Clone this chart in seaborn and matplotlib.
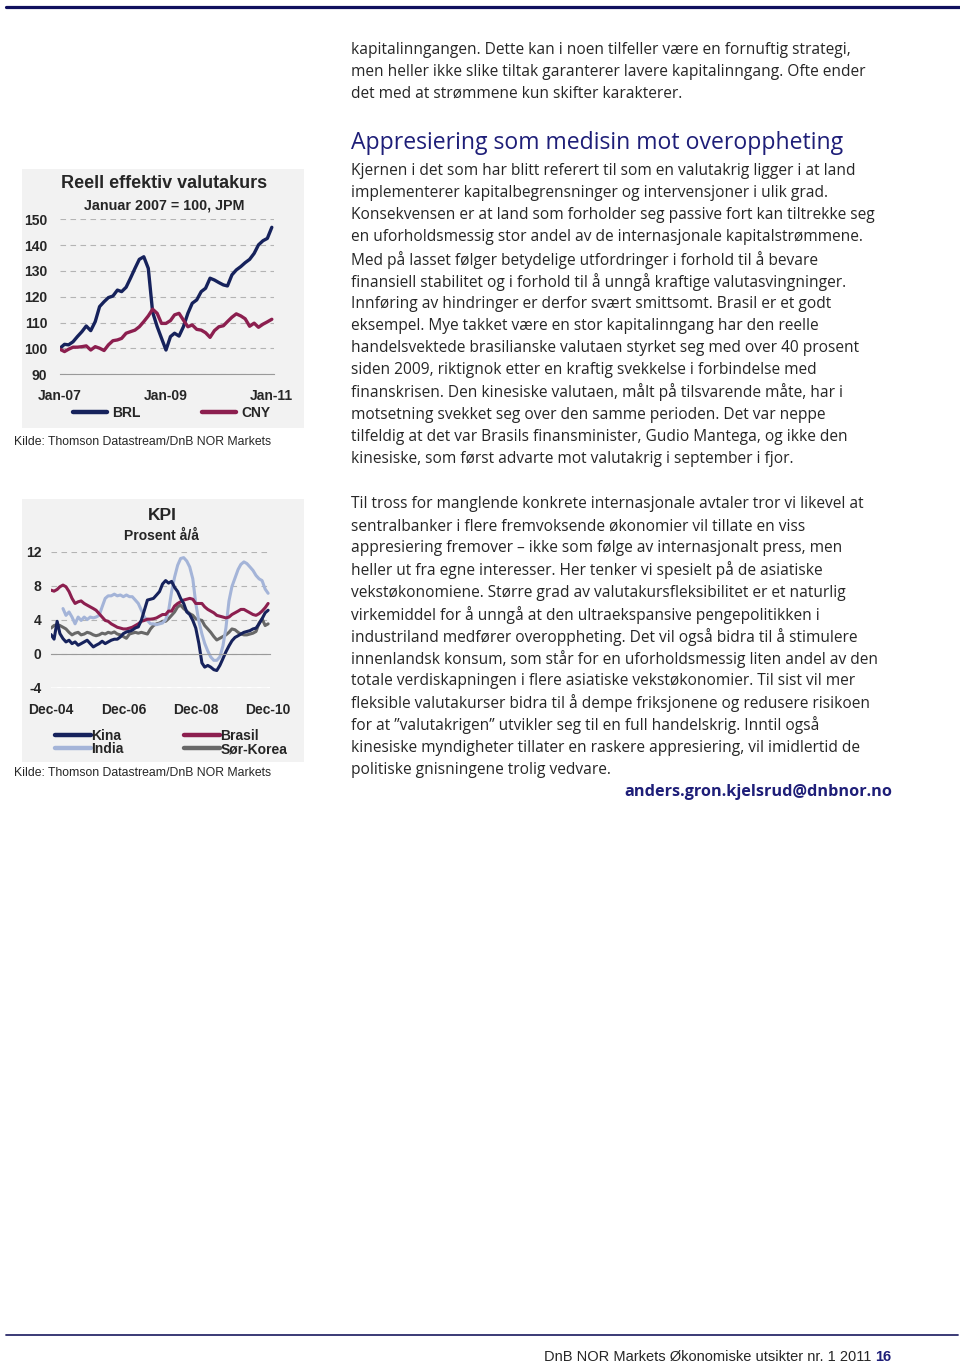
import pandas as pd
import seaborn as sns
import matplotlib.pyplot as plt
import matplotlib.dates as mdates
from matplotlib.patches import Rectangle
from matplotlib.lines import Line2D

# ---- chart 1: reell effektiv valutakurs, januar 2007 = 100 (monthly Jan-07 .. Jan-11)
reer_dates = pd.date_range("2007-01-01", "2011-01-01", freq="MS")
brl = [100.1, 101.6, 101.4, 102.6, 104.6, 106.5, 108.7, 106.9, 110.4, 116.2,
       118.1, 119.7, 120.3, 122.6, 122.0, 123.7, 127.2, 131.0, 134.5, 135.5,
       131.0, 114.0, 108.5, 104.0, 99.4, 104.6, 105.9, 104.8, 108.4, 113.6,
       117.5, 118.8, 122.0, 123.3, 127.2, 126.5, 125.5, 124.6, 124.2, 128.5,
       130.4, 131.7, 133.2, 134.5, 136.8, 140.1, 141.7, 142.6, 146.9]
cny = [99.7, 98.8, 99.7, 100.5, 100.5, 100.7, 101.0, 99.4, 100.7, 100.1,
       99.2, 101.4, 103.0, 103.3, 103.9, 105.9, 106.5, 107.1, 108.4, 110.4,
       112.6, 115.2, 113.6, 109.7, 109.7, 110.8, 113.0, 113.6, 111.0, 108.4,
       109.1, 107.4, 107.1, 106.1, 104.3, 106.9, 108.4, 108.8, 110.4, 112.1,
       113.4, 112.6, 111.5, 108.6, 109.8, 108.2, 109.4, 110.3, 111.3]
reer_ticks = ["Jan-07", "", "Jan-09", "", "Jan-11"]
reer_yticks = [90, 100, 110, 120, 130, 140, 150]

# ---- chart 2: KPI, prosent å/å (monthly Dec-04 .. Dec-10)
kpi_dates = pd.date_range("2004-12-01", "2010-12-01", freq="MS")
kina = [2.24, 1.7, 3.8, 2.35, 1.76, 1.37, 1.57, 1.17, 1.37, 0.98,
        1.17, 1.37, 1.57, 1.17, 0.78, 0.98, 1.17, 1.45, 1.17, 1.37,
        1.57, 1.69, 1.69, 1.96, 2.35, 2.55, 2.63, 2.75, 3.02, 3.14,
        3.93, 5.1, 6.3, 6.4, 6.5, 6.9,
        7.3, 8.2, 8.6, 8.3, 8.5, 7.8, 7.3, 6.5, 5.9, 4.9,
        4.6, 3.9, 3.0, 1.2, -1.1, -1.6, -1.4, -1.6, -1.9, -2.0,
        -1.4, -0.6, 0.2, 0.9, 1.5, 1.9, 2.1, 2.3, 2.5, 2.6,
        2.7, 2.9, 3.0, 3.5, 4.1, 4.8, 5.1]
brasil = [7.47, 7.35, 7.55, 7.87, 8.07, 7.87, 7.3, 6.5, 5.9, 6.1,
          6.2, 5.9, 5.7, 5.5, 5.3, 5.1, 4.7, 4.3, 3.9, 3.8,
          3.5, 3.3, 3.1, 3.0, 2.9, 2.9, 3.0, 3.1, 3.3, 3.5,
          3.8, 3.9, 4.05, 4.05, 4.1, 4.2,
          4.4, 4.6, 4.6, 5.0, 5.0, 5.6, 5.9, 6.1, 6.3, 6.4,
          6.5, 6.4, 5.9, 5.9, 5.9, 5.5, 5.2, 5.0, 4.8, 4.5,
          4.4, 4.3, 4.2, 4.3, 4.6, 4.8, 5.0, 5.2, 5.2, 5.0,
          4.8, 4.6, 4.5, 4.7, 5.0, 5.4, 5.9]
india = [None, None, None, None,
         5.3, 4.5, 4.9, 4.3, 3.5, 4.3, 3.9, 4.3, 4.0, 4.3,
         4.2, 4.3, 4.5, 5.5, 6.5, 6.8, 6.8, 7.0, 6.8, 6.9,
         6.7, 6.9, 6.7, 6.7, 6.3, 5.9, 5.1, 4.3, 3.9, 3.5,
         3.5, 3.4,
         3.5, 3.6, 4.0, 5.0, 7.3, 9.0, 10.4, 11.2, 11.3, 10.9,
         10.2, 8.8, 5.9, 3.8, 2.3, 1.2, 0.3, -0.4, -0.8, -0.8,
         -0.4, 0.9, 3.0, 6.2, 7.9, 8.9, 9.9, 10.5, 10.8, 10.6,
         10.2, 9.8, 9.2, 8.8, 8.6, 7.6, 7.1]
korea = [3.0, 3.3, 3.4, 3.3, 3.1, 2.9, 2.5, 2.2, 2.4, 2.5,
         2.2, 2.3, 2.5, 2.4, 2.2, 2.1, 2.2, 2.4, 2.3, 2.5,
         2.4, 2.55, 2.3, 2.2, 2.0, 1.8, 2.3, 2.4, 2.5, 2.4,
         2.5, 2.4, 2.3, 2.9, 3.3, 3.5,
         3.6, 3.8, 3.8, 4.1, 4.5, 4.9, 5.5, 5.7, 5.3, 5.0,
         4.7, 4.5, 4.1, 4.0, 3.9, 3.3, 2.9, 2.5, 2.0, 1.6,
         1.8, 2.0, 2.2, 2.5, 2.9, 2.8, 2.5, 2.3, 2.2, 2.2,
         2.3, 2.4, 2.6, 3.6, 4.1, 3.3, 3.5]
kpi_ticks = ["Dec-04", "", "Dec-06", "", "Dec-08", "", "Dec-10"]
kpi_yticks = [-4, 0, 4, 8, 12]

# ---- page text
intro_lines = [
    "kapitalinngangen. Dette kan i noen tilfeller være en fornuftig strategi,",
    "men heller ikke slike tiltak garanterer lavere kapitalinngang. Ofte ender",
    "det med at strømmene kun skifter karakterer.",
]
heading = "Appresiering som medisin mot overoppheting"
para1_lines = [
    "Kjernen i det som har blitt referert til som en valutakrig ligger i at land",
    "implementerer kapitalbegrensninger og intervensjoner i ulik grad.",
    "Konsekvensen er at land som forholder seg passive fort kan tiltrekke seg",
    "en uforholdsmessig stor andel av de internasjonale kapitalstrømmene.",
    "Med på lasset følger betydelige utfordringer i forhold til å bevare",
    "finansiell stabilitet og i forhold til å unngå kraftige valutasvingninger.",
    "Innføring av hindringer er derfor svært smittsomt. Brasil er et godt",
    "eksempel. Mye takket være en stor kapitalinngang har den reelle",
    "handelsvektede brasilianske valutaen styrket seg med over 40 prosent",
    "siden 2009, riktignok etter en kraftig svekkelse i forbindelse med",
    "finanskrisen. Den kinesiske valutaen, målt på tilsvarende måte, har i",
    "motsetning svekket seg over den samme perioden. Det var neppe",
    "tilfeldig at det var Brasils finansminister, Gudio Mantega, og ikke den",
    "kinesiske, som først advarte mot valutakrig i september i fjor.",
]
para2_lines = [
    "Til tross for manglende konkrete internasjonale avtaler tror vi likevel at",
    "sentralbanker i flere fremvoksende økonomier vil tillate en viss",
    "appresiering fremover – ikke som følge av internasjonalt press, men",
    "heller ut fra egne interesser. Her tenker vi spesielt på de asiatiske",
    "vekstøkonomiene. Større grad av valutakursfleksibilitet er et naturlig",
    "virkemiddel for å unngå at den ultraekspansive pengepolitikken i",
    "industriland medfører overoppheting. Det vil også bidra til å stimulere",
    "innenlandsk konsum, som står for en uforholdsmessig liten andel av den",
    "totale verdiskapningen i flere asiatiske vekstøkonomier. Til sist vil mer",
    "fleksible valutakurser bidra til å dempe friksjonene og redusere risikoen",
    "for at ”valutakrigen” utvikler seg til en full handelskrig. Inntil også",
    "kinesiske myndigheter tillater en raskere appresiering, vil imidlertid de",
    "politiske gnisningene trolig vedvare.",
]
source = "Kilde: Thomson Datastream/DnB NOR Markets"

NAVY = "#16225c"
CRIMSON = "#8c1f4f"
INDIA = "#a4b4d8"
KOREA = "#686868"
HEAD = "#1e1e78"
GRID = "#b4b4b4"
AXIS = "#9a9a9a"
BODY_FONT = ["Open Sans", "DejaVu Sans"]

sns.set_style("white")
plt.rcParams["font.family"] = ["Liberation Sans", "DejaVu Sans"]

fig = plt.figure(figsize=(9.6, 13.66), dpi=100)


def fx(px):
    return px / 960


def fy(py):
    return 1 - py / 1366


# rules
fig.add_artist(Line2D([fx(6), fx(960)], [fy(7), fy(7)], color="#10105e", lw=2.3))
fig.add_artist(Line2D([fx(6), fx(958)], [fy(1335), fy(1335)], color="#2b2b6b", lw=1.3))

# chart backgrounds
for top, bottom in [(169, 428), (499, 762)]:
    fig.add_artist(Rectangle((fx(22), fy(bottom)), 282 / 960, (bottom - top) / 1366,
                             transform=fig.transFigure, facecolor="#f2f2f2",
                             edgecolor="none", zorder=0))

# ---------------- chart 1
ax1 = fig.add_axes([fx(60), fy(374.3), (274 - 60) / 960, (374.3 - 219.3) / 1366])
ax1.set_facecolor("none")
df1 = pd.DataFrame({"dato": mdates.date2num(reer_dates), "BRL": brl, "CNY": cny})
df1 = df1.melt("dato", var_name="serie", value_name="verdi")
sns.lineplot(data=df1, x="dato", y="verdi", hue="serie", palette=[NAVY, CRIMSON],
             linewidth=2.4, ax=ax1, legend=False)
ax1.set_xlim(mdates.date2num(pd.Timestamp("2007-01-01")),
             mdates.date2num(pd.Timestamp("2011-01-16")))
ax1.set_ylim(90, 150)
year_ticks = mdates.date2num(pd.date_range("2007-01-01", "2011-01-01", freq="YS"))
ax1.set_xticks(year_ticks, reer_ticks, fontsize=10, fontweight="bold")
ax1.set_yticks(reer_yticks, [str(v) for v in reer_yticks], fontsize=10, fontweight="bold")
ax1.tick_params(axis="x", direction="in", length=4, color=AXIS, pad=10.5)
ax1.tick_params(axis="y", length=0, pad=9)
ax1.yaxis.grid(True, linestyle=(0, (5, 4)), color=GRID, lw=0.8)
ax1.xaxis.grid(False)
for s in ["left", "top", "right"]:
    ax1.spines[s].set_visible(False)
ax1.spines["bottom"].set_color(AXIS)
ax1.spines["bottom"].set_linewidth(0.8)
ax1.set_xlabel("")
ax1.set_ylabel("")

fig.text(fx(164), fy(184), "Reell effektiv valutakurs", ha="center", va="center",
         fontsize=13, fontweight="bold")
fig.text(fx(164), fy(206), "Januar 2007 = 100, JPM", ha="center", va="center",
         fontsize=10.3, fontweight="bold")
h1 = [Line2D([], [], color=NAVY, lw=3.2), Line2D([], [], color=CRIMSON, lw=3.2)]
fig.legend(h1, ["BRL", "CNY"], loc="center", bbox_to_anchor=(fx(171.5), fy(413)),
           ncol=2, frameon=False, handlelength=2.5, handletextpad=0.35,
           columnspacing=4.4, prop={"weight": "bold", "size": 10})
fig.text(fx(14), fy(442), source, ha="left", va="center", fontsize=8.85)

# ---------------- chart 2
ax2 = fig.add_axes([fx(51), fy(687.5), 219 / 960, (687.5 - 551.7) / 1366])
ax2.set_facecolor("none")
df2 = pd.DataFrame({"dato": mdates.date2num(kpi_dates), "Kina": kina, "India": india,
                    "Brasil": brasil, "Sør-Korea": korea})
df2 = df2.melt("dato", var_name="land", value_name="verdi").dropna()
sns.lineplot(data=df2, x="dato", y="verdi", hue="land",
             hue_order=["Sør-Korea", "India", "Brasil", "Kina"],
             palette=[KOREA, INDIA, CRIMSON, NAVY], linewidth=2.2, ax=ax2, legend=False)
ax2.set_xlim(mdates.date2num(pd.Timestamp("2004-12-01")),
             mdates.date2num(pd.Timestamp("2010-12-20")))
ax2.set_ylim(-4, 12)
dec_ticks = mdates.date2num(pd.date_range("2004-12-01", "2010-12-01", freq="12MS"))
ax2.set_xticks(dec_ticks)
ax2.tick_params(axis="x", direction="inout", length=6, color=AXIS, labelbottom=False)
ax2.set_yticks(kpi_yticks, [str(v) for v in kpi_yticks], fontsize=10, fontweight="bold")
ax2.tick_params(axis="y", length=0, pad=7)
ax2.yaxis.grid(True, linestyle=(0, (5, 4)), color=GRID, lw=0.8)
ax2.xaxis.grid(False)
for s in ["left", "top", "right"]:
    ax2.spines[s].set_visible(False)
ax2.spines["bottom"].set_position(("data", 0))
ax2.spines["bottom"].set_color(AXIS)
ax2.spines["bottom"].set_linewidth(0.8)
ax2.set_xlabel("")
ax2.set_ylabel("")
sec = ax2.secondary_xaxis("bottom")
sec.set_xticks(dec_ticks, kpi_ticks, fontsize=10, fontweight="bold")
sec.tick_params(length=0, pad=11)
sec.spines["bottom"].set_visible(False)

fig.text(fx(162), fy(515), "KPI", ha="center", va="center", fontsize=12.5, fontweight="bold")
fig.text(fx(162), fy(536), "Prosent å/å", ha="center", va="center", fontsize=10,
         fontweight="bold")
h2 = [Line2D([], [], color=NAVY, lw=3.2), Line2D([], [], color=INDIA, lw=3.2),
      Line2D([], [], color=CRIMSON, lw=3.2), Line2D([], [], color=KOREA, lw=3.2)]
fig.legend(h2, ["Kina", "India", "Brasil", "Sør-Korea"], loc="center",
           bbox_to_anchor=(fx(171), fy(742.5)), ncol=2, frameon=False,
           handlelength=2.6, handletextpad=0.05, columnspacing=4.3, labelspacing=-0.05,
           prop={"weight": "bold", "size": 10})
fig.text(fx(14), fy(773), source, ha="left", va="center", fontsize=8.85)

# ---------------- body text
BODY = 11.2
for i, line in enumerate(intro_lines):
    fig.text(fx(351), fy(50 + i * 22), line, ha="left", va="center", fontsize=BODY,
             family=BODY_FONT)
fig.text(fx(351), fy(143), heading, ha="left", va="center", fontsize=16.6, color=HEAD,
         family=BODY_FONT)
for i, line in enumerate(para1_lines):
    fig.text(fx(351), fy(171 + i * 22.15), line, ha="left", va="center", fontsize=BODY,
             family=BODY_FONT)
for i, line in enumerate(para2_lines):
    fig.text(fx(351), fy(504 + i * 22.15), line, ha="left", va="center", fontsize=BODY,
             family=BODY_FONT)
fig.text(fx(892), fy(792), "anders.gron.kjelsrud@dnbnor.no", ha="right", va="center",
         fontsize=11.7, fontweight="bold", color=HEAD, family=BODY_FONT)

# footer
fig.text(fx(891), fy(1357), "16", ha="right", va="center", fontsize=10.5,
         fontweight="bold", color=HEAD)
fig.text(fx(871), fy(1357), "DnB NOR Markets Økonomiske utsikter nr. 1 2011",
         ha="right", va="center", fontsize=10.5)

fig.savefig("out.png", dpi=100)
